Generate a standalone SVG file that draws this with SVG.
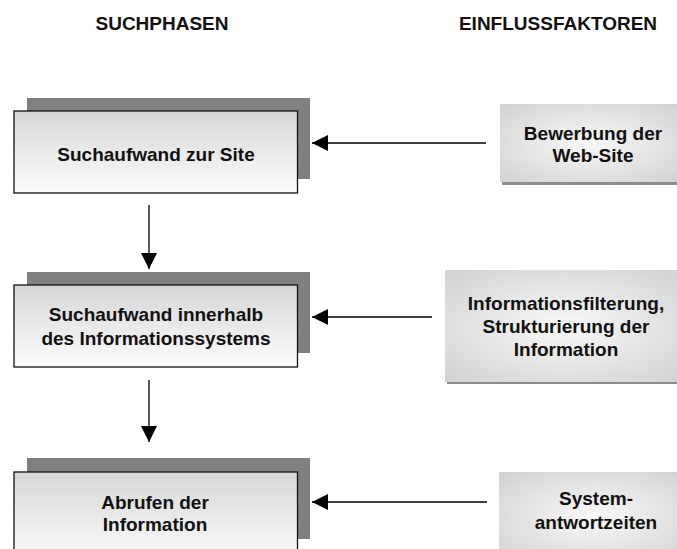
<svg xmlns="http://www.w3.org/2000/svg" width="677" height="549" viewBox="0 0 677 549">
<style>
text{font-family:"Liberation Sans",Arial,sans-serif;font-weight:bold;font-size:19px;fill:#111;text-anchor:middle}
.shadow{fill:#808080}
.main{fill:url(#gMain);stroke:#111;stroke-width:1.3}
.fshadow{fill:#8c8c8c}
.factor{fill:url(#gFactor)}
.conn{stroke:#000;stroke-width:1.3;fill:none;marker-end:url(#arrow)}
</style>
<defs>
<linearGradient id="gMain" x1="0" y1="0" x2="0" y2="1">
<stop offset="0" stop-color="#d6d6d6"/>
<stop offset="1" stop-color="#fcfcfc"/>
</linearGradient>
<radialGradient id="gFactor" cx="0.5" cy="0.5" r="0.75">
<stop offset="0" stop-color="#f8f8f8"/>
<stop offset="1" stop-color="#cfcfcf"/>
</radialGradient>
<marker id="arrow" markerUnits="userSpaceOnUse" markerWidth="16" markerHeight="16" refX="16" refY="8" orient="auto">
<path d="M0,0 L16,8 L0,16 z" fill="#000"/>
</marker>
</defs>

<g id="headers">
<text x="162" y="30">SUCHPHASEN</text>
<text x="558" y="30">EINFLUSSFAKTOREN</text>
</g>

<g id="phase1">
<rect class="shadow" x="27" y="98" width="283" height="81"/>
<rect class="main" x="14" y="111" width="283.5" height="82"/>
<text x="156" y="161">Suchaufwand zur Site</text>
</g>

<g id="phase2">
<rect class="shadow" x="27" y="272" width="283" height="81"/>
<rect class="main" x="14" y="285" width="283.5" height="82"/>
<text x="156" y="321">Suchaufwand innerhalb</text>
<text x="156" y="345">des Informationssystems</text>
</g>

<g id="phase3">
<rect class="shadow" x="27" y="458" width="283" height="81"/>
<rect class="main" x="14" y="472" width="283.5" height="90"/>
<text x="155" y="509">Abrufen der</text>
<text x="155" y="531">Information</text>
</g>

<g id="factor1">
<rect class="fshadow" x="502" y="106" width="180" height="79"/>
<rect class="factor" x="500" y="104" width="180" height="78"/>
<text x="593" y="140">Bewerbung der</text>
<text x="593" y="162">Web-Site</text>
</g>

<g id="factor2">
<rect class="fshadow" x="447" y="272" width="240" height="112"/>
<rect class="factor" x="445" y="270" width="240" height="112"/>
<text x="566" y="310">Informationsfilterung,</text>
<text x="566" y="333">Strukturierung der</text>
<text x="566" y="356">Information</text>
</g>

<g id="factor3">
<rect class="fshadow" x="501" y="474" width="190" height="90"/>
<rect class="factor" x="499" y="472" width="190" height="90"/>
<text x="596" y="505">System-</text>
<text x="596" y="529">antwortzeiten</text>
</g>

<g id="connectors">
<line class="conn" x1="149" y1="205" x2="149" y2="269"/>
<line class="conn" x1="149" y1="380" x2="149" y2="442"/>
<line class="conn" x1="486" y1="143" x2="312" y2="143"/>
<line class="conn" x1="432" y1="317" x2="312" y2="317"/>
<line class="conn" x1="487" y1="502" x2="312" y2="502"/>
</g>
</svg>
